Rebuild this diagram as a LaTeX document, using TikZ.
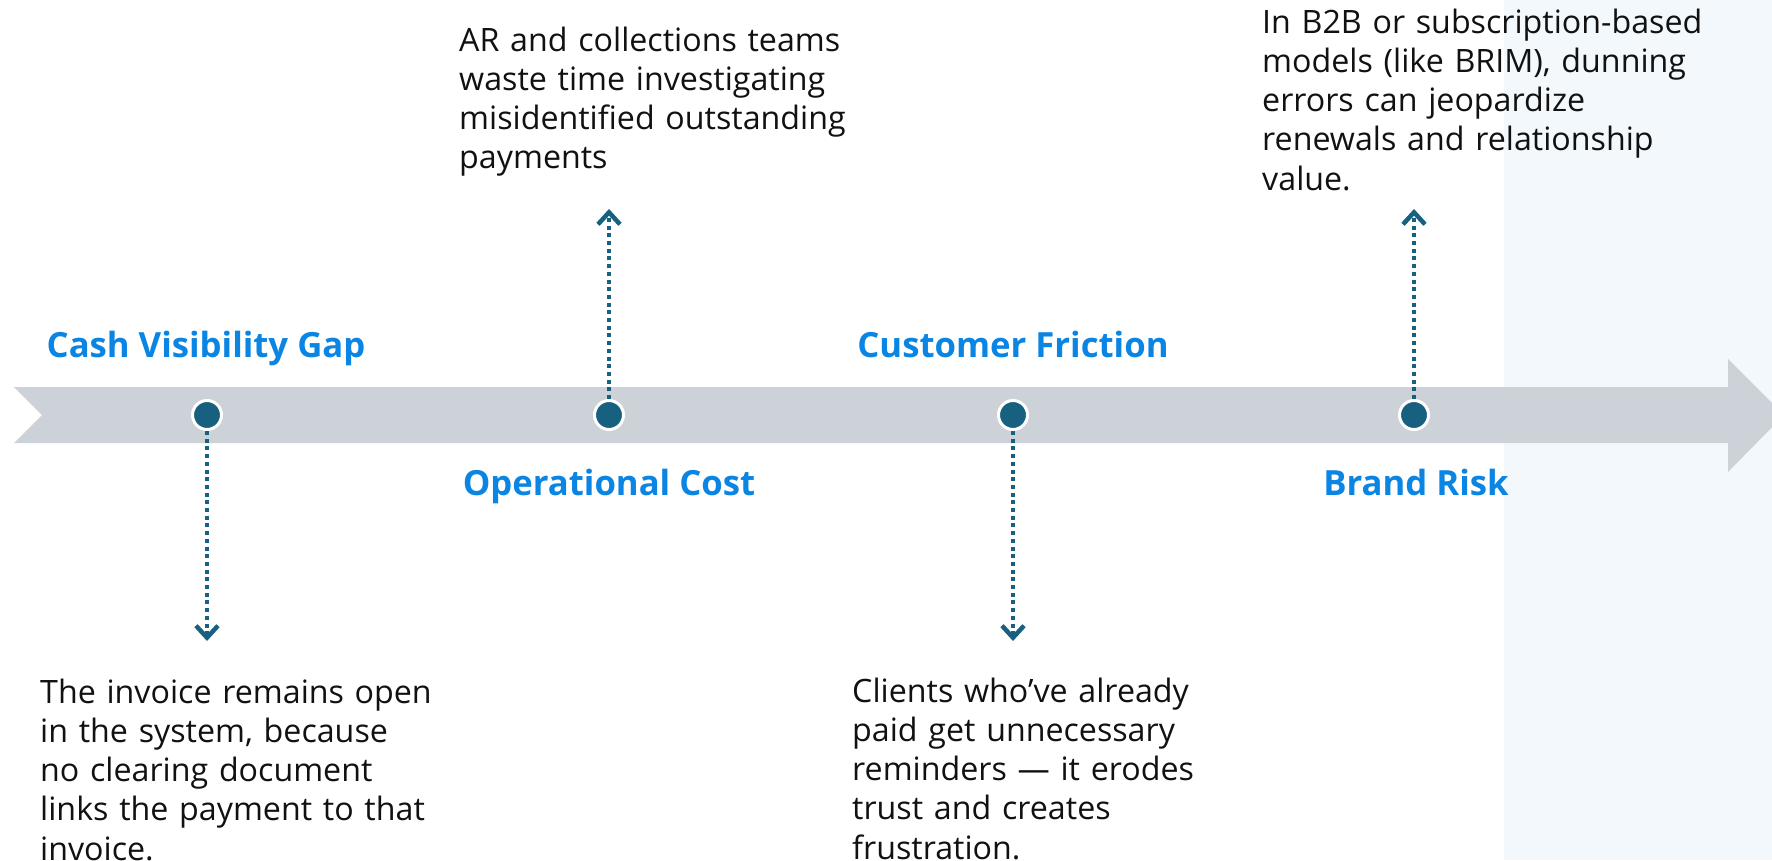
\documentclass[tikz,border=0pt]{standalone}
\usepackage{fontspec}
\setmainfont{Open Sans}
\usetikzlibrary{arrows.meta}
\definecolor{bandgray}{HTML}{CDD2D9}
\definecolor{dotblue}{HTML}{17607F}
\definecolor{headblue}{HTML}{0A85E4}
\definecolor{panelblue}{HTML}{F3F8FC}
\definecolor{inkblack}{HTML}{111111}

\begin{document}
\begin{tikzpicture}[x=1pt, y=-1pt,
    eventdot/.style={circle, fill=dotblue, draw=white, line width=3pt, minimum size=29pt, inner sep=0pt},
    headline/.style={text=headblue, font=\fontsize{34.7}{40}\selectfont\bfseries, inner sep=0pt, anchor=base},
    note/.style={text=inkblack, font=\fontsize{32.2}{39.3}\selectfont, align=left, text width=480pt, inner sep=0pt, anchor=base west},
    link/.style={dotblue, line width=4pt, dash pattern=on 4pt off 3.7pt, -{Straight Barb[length=12pt, width=22pt, line width=4.5pt]}}]
    \useasboundingbox (0,0) rectangle (1772,860);

    % 背景と矢印
    \fill[panelblue] (1504,0) rectangle (1772,860);
    \fill[bandgray] (14,387) -- (1728,387) -- (1728,359) -- (1784,415) -- (1728,472) -- (1728,443) -- (14,443) -- (42,415) -- cycle;

    % 点を描画
    \node[eventdot] (P1) at (207,415) {};
    \node[eventdot] (P2) at (609,415) {};
    \node[eventdot] (P3) at (1013,415) {};
    \node[eventdot] (P4) at (1414,415) {};

    % 見出し
    \node[headline] (H1) at (206,357) {Cash Visibility Gap};
    \node[headline] (H2) at (609,495) {Operational Cost};
    \node[headline] (H3) at (1013,357) {Customer Friction};
    \node[headline] (H4) at (1416,495) {Brand Risk};

    % 説明文
    \node[note] (N1) at (40,703) {The invoice remains open\\in the system, because\\no clearing document\\links the payment to that\\invoice.};
    \node[note] (N2) at (459,51) {AR and collections teams\\waste time investigating\\misidentified outstanding\\payments};
    \node[note] (N3) at (852,702) {Clients who’ve already\\paid get unnecessary\\reminders — it erodes\\trust and creates\\frustration.};
    \node[note] (N4) at (1262,33) {In B2B or subscription-based\\models (like BRIM), dunning\\errors can jeopardize\\renewals and relationship\\value.};

    % 矢印の先
    \coordinate (T1) at (207,641);
    \coordinate (T2) at (609,209);
    \coordinate (T3) at (1013,641);
    \coordinate (T4) at (1414,209);

    % エッジを描画
    \draw[link] (P1) -- (T1);
    \draw[link] (P2) -- (T2);
    \draw[link] (P3) -- (T3);
    \draw[link] (P4) -- (T4);
\end{tikzpicture}
\end{document}
